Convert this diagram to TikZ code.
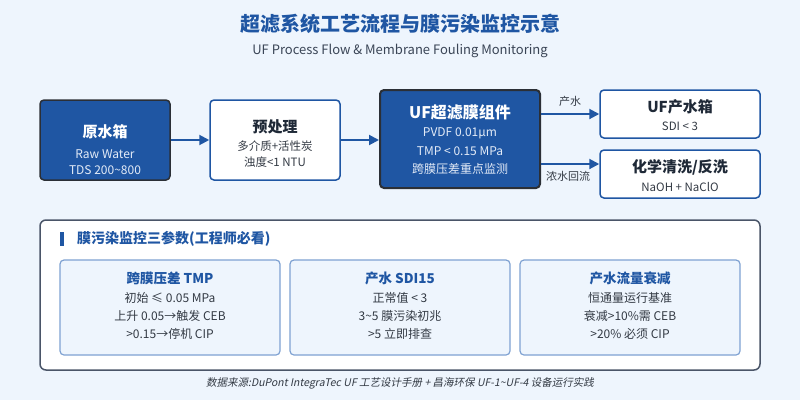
\documentclass[tikz,border=0pt]{standalone}
\usepackage{fontspec}
\setmainfont{Noto Sans CJK SC}
\newfontfamily\footfont[FakeSlant=0.2]{Noto Sans CJK SC}
\usetikzlibrary{arrows.meta,calc}
\definecolor{bgc}{HTML}{EEF5FD}
\definecolor{ublue}{HTML}{1F56A3}
\definecolor{dkborder}{HTML}{2B2F36}
\definecolor{panelb}{HTML}{4A5568}
\definecolor{cardfill}{HTML}{EEF5FD}
\definecolor{cardb}{HTML}{7FA2D2}
\definecolor{txt}{HTML}{333A44}
\definecolor{subt}{HTML}{3A4556}
\definecolor{lighttxt}{HTML}{E3EBF7}
\definecolor{ttl}{HTML}{1F2937}
\tikzset{
  darkbox/.style={draw=dkborder, fill=ublue, line width=1.5pt, rounded corners=4pt},
  whitebox/.style={draw=ublue, fill=white, line width=1.5pt, rounded corners=4pt},
  cardbox/.style={draw=cardb, fill=cardfill, line width=1.2pt, rounded corners=4pt},
  panelbox/.style={draw=panelb, fill=white, line width=1.5pt, rounded corners=6pt},
  lbl/.style={inner sep=0pt, anchor=center},
  dtitle/.style={lbl, text=white, font=\fontsize{15}{18}\selectfont\bfseries},
  dline/.style={lbl, text=lighttxt, font=\fontsize{12}{14}\selectfont},
  wtitle/.style={lbl, text=ttl, font=\fontsize{15}{18}\selectfont\bfseries},
  wline/.style={lbl, text=txt, font=\fontsize{11.5}{14}\selectfont},
  ctitle/.style={lbl, text=ublue, font=\fontsize{13.5}{16}\selectfont\bfseries},
  cline/.style={lbl, text=txt, font=\fontsize{12}{14}\selectfont},
  arr/.style={draw=ublue, line width=2pt, -{Triangle[length=10pt,width=10pt]}},
  elbl/.style={lbl, text=txt, font=\fontsize{11}{14}\selectfont},
}
\begin{document}
\begin{tikzpicture}[x=1pt,y=-1pt]
\fill[bgc] (0,0) rectangle (800,400);
\useasboundingbox (0,0) rectangle (800,400);

% titles
\node[lbl, text=ublue, font=\fontsize{20}{24}\selectfont\bfseries] (title) at (400,24) {超滤系统工艺流程与膜污染监控示意};
\node[lbl, text=subt, font=\fontsize{13}{16}\selectfont] (subtitle) at (400,51) {UF Process Flow \& Membrane Fouling Monitoring};

% process boxes
\node[darkbox, minimum width=130pt, minimum height=80pt] (raw) at (105,140) {};
\node[dtitle] (rawt) at (105,132) {原水箱};
\node[dline] (rawl1) at (105,154) {Raw Water};
\node[dline] (rawl2) at (105,170) {TDS 200\textasciitilde800};

\node[whitebox, minimum width=130pt, minimum height=80pt] (pre) at (275,140) {};
\node[wtitle] (pret) at (275,127) {预处理};
\node[wline] (prel1) at (275,146) {多介质+活性炭};
\node[wline] (prel2) at (275,162) {浊度<1 NTU};

\node[darkbox, line width=2pt, minimum width=160pt, minimum height=98pt] (uf) at (460,139) {};
\node[dtitle, font=\fontsize{16}{19}\selectfont\bfseries] (uft) at (460,112) {UF超滤膜组件};
\node[dline] (ufl1) at (460,133) {PVDF 0.01µm};
\node[dline] (ufl2) at (460,151) {TMP < 0.15 MPa};
\node[dline] (ufl3) at (460,169) {跨膜压差重点监测};

\node[whitebox, minimum width=160pt, minimum height=48pt] (tank) at (680,114) {};
\node[wtitle] (tankt) at (680,107) {UF产水箱};
\node[wline] (tankl) at (680,126) {SDI < 3};

\node[whitebox, minimum width=160pt, minimum height=48pt] (chem) at (680,174) {};
\node[wtitle] (chemt) at (680,167) {化学清洗/反洗};
\node[wline] (cheml) at (680,187) {NaOH + NaClO};

% connectors
\draw[arr] (raw.east) -- (pre.west);
\draw[arr] (pre.east) -- (raw.east -| uf.west);
\draw[arr] (uf.east |- tank.west) -- (tank.west);
\coordinate (rj) at (540,164);
\draw[arr] (uf.east |- rj) -- (chem.west |- rj);
\node[elbl] (lab1) at (570,101) {产水};
\node[elbl] (lab2) at (568,176) {浓水回流};

% panel
\node[panelbox, minimum width=720pt, minimum height=150pt] (panel) at (400,295) {};
\fill[ublue] (60,232) rectangle (63.5,246);
\node[lbl, anchor=west, text=ublue, font=\fontsize{14}{17}\selectfont\bfseries] (ph) at (77,239) {膜污染监控三参数(工程师必看)};

\node[cardbox, minimum width=220pt, minimum height=95pt] (c1) at (170,307.5) {};
\node[ctitle] (c1t) at (170,278) {跨膜压差 TMP};
\node[cline] (c1a) at (170,298) {初始 ≤ 0.05 MPa};
\node[cline] (c1b) at (170,316) {上升 0.05→触发 CEB};
\node[cline] (c1c) at (170,334) {>0.15→停机 CIP};

\node[cardbox, minimum width=220pt, minimum height=95pt] (c2) at (400,307.5) {};
\node[ctitle] (c2t) at (400,278) {产水 SDI15};
\node[cline] (c2a) at (400,298) {正常值 < 3};
\node[cline] (c2b) at (400,316) {3\textasciitilde5 膜污染初兆};
\node[cline] (c2c) at (400,334) {>5 立即排查};

\node[cardbox, minimum width=220pt, minimum height=95pt] (c3) at (630,307.5) {};
\node[ctitle] (c3t) at (630,278) {产水流量衰减};
\node[cline] (c3a) at (630,298) {恒通量运行基准};
\node[cline] (c3b) at (630,316) {衰减>10\%需 CEB};
\node[cline] (c3c) at (630,334) {>20\% 必须 CIP};

% footer
\node[lbl, text=txt, font=\footfont\fontsize{10.5}{13}\selectfont] (foot) at (400,383) {数据来源:DuPont IntegraTec UF 工艺设计手册 + 昌海环保 UF-1\textasciitilde UF-4 设备运行实践};
\end{tikzpicture}
\end{document}
